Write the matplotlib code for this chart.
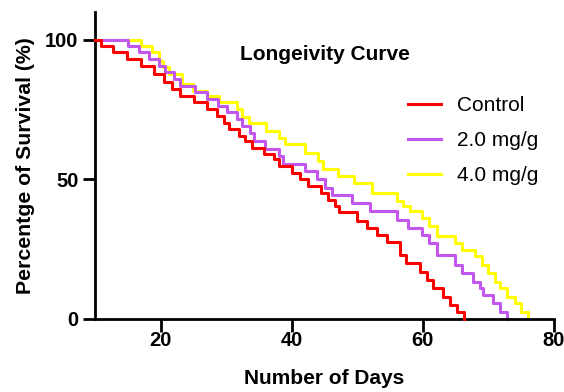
import matplotlib

matplotlib.use("Agg")
import matplotlib.pyplot as plt

# Kaplan-Meier style survival curves (day of step, % survival after the step)
control_days = [10, 10.9, 12.8, 14.9, 17.0, 19.0, 20.5, 21.8, 23.0, 25.1, 27.1, 28.6,
                29.6, 30.5, 31.9, 32.8, 34.0, 35.7, 37.3, 38.0, 40.1, 41.3, 42.5, 44.5,
                45.6, 46.6, 47.2, 50.0, 51.5, 53.0, 54.5, 56.5, 57.5, 59.6, 60.6, 61.6,
                63.0, 64.1, 65.2, 66.2]
control_surv = [100, 97.9, 95.6, 93.2, 90.8, 87.8, 85.0, 82.4, 80.0, 77.6, 75.2, 72.8,
                70.4, 68.0, 65.6, 63.8, 61.4, 59.0, 57.2, 54.8, 52.4, 50.0, 47.5, 45.0,
                42.5, 40.5, 38.5, 35.0, 32.5, 30.0, 27.5, 23.0, 20.0, 17.0, 14.0, 11.0,
                8.0, 5.0, 2.5, 0]

low_days = [10, 15.1, 16.7, 18.3, 19.7, 20.7, 22.0, 23.0, 25.3, 27.1, 28.8, 30.1,
            31.7, 32.4, 33.7, 34.2, 36.0, 38.0, 38.7, 42.0, 43.8, 45.0, 46.2, 49.2,
            52.0, 56.0, 57.8, 59.8, 61.0, 62.1, 64.9, 66.0, 67.7, 68.7, 69.2, 70.7,
            71.8, 72.8]
low_surv = [100, 97.9, 95.6, 93.2, 90.8, 88.4, 86.0, 83.6, 81.2, 78.8, 76.4, 74.0,
            71.6, 69.2, 66.8, 63.8, 60.8, 58.4, 55.4, 53.0, 50.0, 47.0, 44.6, 41.6,
            38.6, 35.6, 32.6, 30.2, 27.2, 23.0, 19.4, 16.4, 13.4, 11.0, 8.6, 5.6,
            2.6, 0]

high_days = [10, 17.0, 18.7, 19.7, 20.3, 21.3, 23.3, 25.0, 27.1, 28.9, 31.7, 32.4,
             33.5, 36.1, 38.0, 39.0, 42.0, 44.0, 44.8, 47.1, 49.5, 52.3, 56.0, 57.0,
             58.0, 59.8, 61.0, 62.1, 64.9, 65.9, 68.0, 69.0, 70.0, 71.0, 71.8, 72.8,
             74.0, 75.0, 76.0]
high_surv = [100, 97.9, 95.6, 92.5, 90.2, 87.8, 84.2, 81.8, 80.0, 77.6, 75.2, 72.2,
             70.4, 67.4, 65.0, 62.6, 59.6, 56.6, 53.6, 51.2, 48.8, 45.2, 42.2, 40.4,
             38.6, 36.2, 33.2, 29.6, 27.2, 24.8, 22.4, 19.4, 16.4, 13.4, 11.0, 8.0,
             5.6, 2.6, 0]

labels = ["Control", "2.0 mg/g", "4.0 mg/g"]
colors = ["#FF0000", "#C257EE", "#FFFF00"]

x_ticks = [20, 40, 60, 80]
y_ticks = [0, 50, 100]

plt.rcParams["font.family"] = ["Liberation Sans", "DejaVu Sans"]

W, H = 564, 392
fig = plt.figure(figsize=(W / 100, H / 100), dpi=100)
ax = fig.add_axes([95 / W, 1 - 319 / H, (554 - 95) / W, (319 - 12) / H])

series = [(control_days, control_surv), (low_days, low_surv), (high_days, high_surv)]
handles = []
# draw yellow first, red on top
for idx in [2, 1, 0]:
    days, surv = series[idx]
    (line,) = ax.step(days, surv, where="post", color=colors[idx], linewidth=2.2,
                      label=labels[idx], zorder=3 - idx, clip_on=False)
    handles.append(line)
handles = handles[::-1]

ax.set_xlim(10, 80)
ax.set_ylim(0, 110)
ax.set_xticks(x_ticks)
ax.set_yticks(y_ticks)

for side in ["top", "right"]:
    ax.spines[side].set_visible(False)
for side in ["left", "bottom"]:
    ax.spines[side].set_linewidth(2)

ax.tick_params(axis="both", length=9, width=2, labelsize=14.5)
ax.tick_params(axis="x", pad=0)
ax.tick_params(axis="y", pad=3)
for lab in ax.get_xticklabels() + ax.get_yticklabels():
    lab.set_fontweight("bold")

ax.set_xlabel("Number of Days", fontsize=15, fontweight="bold", labelpad=13)
ax.set_ylabel("Percentge of Survival (%)", fontsize=15.3, fontweight="bold", labelpad=7)

fig.text(240 / W, 1 - 60 / H, "Longeivity Curve", fontsize=15, fontweight="bold",
         ha="left", va="baseline")

ax.legend(handles, labels, loc="upper left", bbox_to_anchor=(408 / W, 1 - 96 / H),
          bbox_transform=fig.transFigure, frameon=False, fontsize=15,
          handlelength=1.6, handletextpad=0.75, labelspacing=0.77,
          borderpad=0, borderaxespad=0)

fig.savefig("out.png", dpi=100)
